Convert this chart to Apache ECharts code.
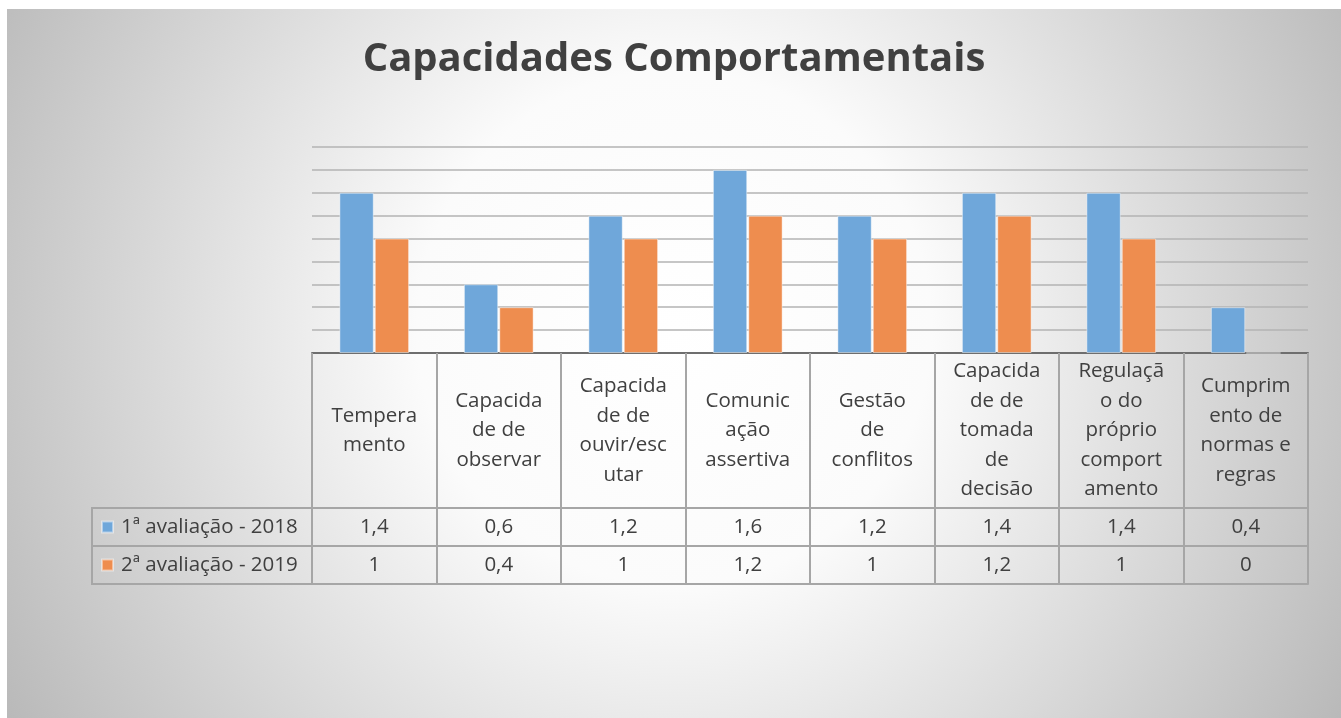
<!DOCTYPE html>
<html>
<head>
<meta charset="utf-8">
<script src="https://cdn.jsdelivr.net/npm/echarts@6/dist/echarts.min.js"></script>
<style>
html,body{margin:0;padding:0;background:#fff;width:1341px;height:718px;overflow:hidden;}
#chart{position:absolute;left:7px;top:9px;width:1334px;height:709px;}
</style>
</head>
<body>
<div id="chart"></div>
<script>
const categories = ["Temperamento","Capacidade de observar","Capacidade de ouvir/escutar","Comunicação assertiva","Gestão de conflitos","Capacidade de tomada de decisão","Regulação do próprio comportamento","Cumprimento de normas e regras"];
const categoryLabels = ["Tempera\nmento","Capacida\nde de\nobservar","Capacida\nde de\nouvir/esc\nutar","Comunic\nação\nassertiva","Gestão\nde\nconflitos","Capacida\nde de\ntomada\nde\ndecisão","Regulaçã\no do\npróprio\ncomport\namento","Cumprim\nento de\nnormas e\nregras"];
const seriesNames = ["1ª avaliação - 2018","2ª avaliação - 2019"];
const aval2018 = [1.4,0.6,1.2,1.6,1.2,1.4,1.4,0.4];
const aval2019 = [1,0.4,1,1.2,1,1.2,1,0];
const yTicks = [0,0.2,0.4,0.6,0.8,1.0,1.2,1.4,1.6,1.8];

const FONT = "Open Sans";
const TXT = "#404040";
const LINE = "#a6a6a6";
const FS = 20.5;
const fmt = v => String(v).replace(".", ",");

// layout
const G = {left:305, right:33, top:138, bottom:365};
const headerH = 155, rowH = 38;

const chart = echarts.init(document.getElementById('chart'));
const option = {
  backgroundColor: {
    type:'radial', x:0.5, y:0.45, r:1.1,
    colorStops:[{offset:0,color:'#ffffff'},{offset:0.33,color:'#fbfbfb'},{offset:1,color:'#b8b8b8'}]
  },
  animation:false,
  title:{
    text:'Capacidades Comportamentais', left:'center', top:26,
    textStyle:{fontFamily:FONT, fontSize:40, fontWeight:'bold', color:TXT}
  },
  legend:{
    orient:'vertical', left:94, top:507, padding:0,
    itemWidth:11, itemHeight:11, itemGap:16, icon:'rect',
    data:seriesNames,
    textStyle:{fontFamily:FONT, fontSize:FS, color:TXT, lineHeight:22, padding:[0,0,0,3]}
  },
  grid:{left:G.left, right:G.right, top:G.top, bottom:G.bottom, containLabel:false},
  xAxis:[
    {type:'category', data:categories, position:'bottom', offset:0,
     axisLine:{show:true, lineStyle:{color:'#6e6e6e', width:2}},
     axisTick:{show:true, length:headerH+2*rowH, lineStyle:{color:LINE, width:2}},
     axisLabel:{interval:0, margin:headerH/2, verticalAlign:'middle', align:'center',
       fontFamily:FONT, fontSize:FS, color:TXT, lineHeight:29.5,
       formatter:(v,i)=>categoryLabels[i]}},
    {type:'category', data:categories, position:'bottom', offset:headerH,
     axisLine:{show:true, lineStyle:{color:LINE, width:2}}, axisTick:{show:false},
     axisLabel:{interval:0, margin:rowH/2, verticalAlign:'middle', fontFamily:FONT, fontSize:FS, color:TXT,
       formatter:(v,i)=>fmt(aval2018[i])}},
    {type:'category', data:categories, position:'bottom', offset:headerH+rowH,
     axisLine:{show:true, lineStyle:{color:LINE, width:2}}, axisTick:{show:false},
     axisLabel:{interval:0, margin:rowH/2, verticalAlign:'middle', fontFamily:FONT, fontSize:FS, color:TXT,
       formatter:(v,i)=>fmt(aval2019[i])}},
    {type:'category', data:categories, position:'bottom', offset:headerH+2*rowH,
     axisLine:{show:true, lineStyle:{color:LINE, width:2}}, axisTick:{show:false}, axisLabel:{show:false}}
  ],
  yAxis:{type:'value', min:yTicks[0], max:yTicks[yTicks.length-1], interval:0.2,
    axisLine:{show:false}, axisTick:{show:false}, axisLabel:{show:false},
    splitLine:{lineStyle:{color:'#b3b3b3', width:1.5}}},
  series:[
    {name:seriesNames[0], type:'bar', data:aval2018, xAxisIndex:0, barGap:'3%', barCategoryGap:'44%',
     itemStyle:{color:'#6fa7da', borderColor:'rgba(255,255,255,0.45)', borderWidth:1}},
    {name:seriesNames[1], type:'bar', data:aval2019, xAxisIndex:0,
     itemStyle:{color:'#ee8d4f', borderColor:'rgba(255,255,255,0.45)', borderWidth:1}}
  ],
  graphic:[
    {type:'rect', silent:true, shape:{x:85, y:709-G.bottom+headerH, width:G.left-85, height:rowH},
     style:{fill:'none', stroke:LINE, lineWidth:2}},
    {type:'rect', silent:true, shape:{x:85, y:709-G.bottom+headerH+rowH, width:G.left-85, height:rowH},
     style:{fill:'none', stroke:LINE, lineWidth:2}}
  ]
};
chart.setOption(option);
</script>
</body>
</html>
